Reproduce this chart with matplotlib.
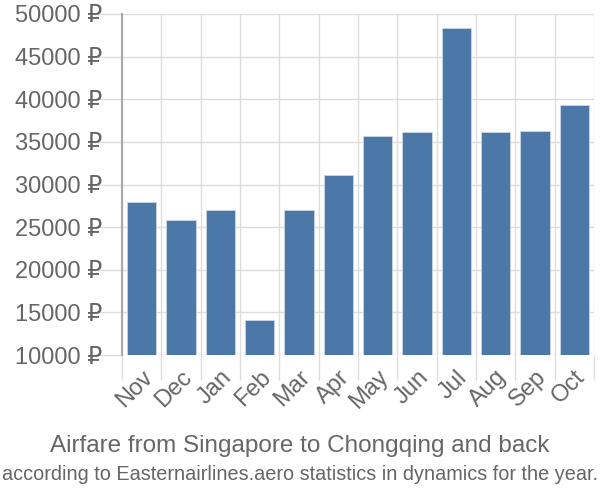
import numpy as np
import matplotlib.pyplot as plt

months = ['Nov', 'Dec', 'Jan', 'Feb', 'Mar', 'Apr', 'May', 'Jun', 'Jul', 'Aug', 'Sep', 'Oct']
prices = [28000, 25850, 27000, 14100, 27000, 31100, 35700, 36150, 48350, 36150, 36300, 39300]
yticks = [10000, 15000, 20000, 25000, 30000, 35000, 40000, 45000, 50000]

fam = ['Liberation Sans', 'DejaVu Sans']
plt.rcParams['font.family'] = fam

fig = plt.figure(figsize=(6, 5), dpi=100)
ax = fig.add_axes([122/600, 145/500, 472/600, 341/500])

x = np.arange(len(months))
base = 10000
ax.bar(x, np.array(prices) - base, bottom=base, width=0.74, color='#4c78a8',
       edgecolor='#c8d6e8', linewidth=0.6, zorder=3)

ax.set_xlim(-0.5, len(months) - 0.5)
ax.set_ylim(10000, 50000)

ax.set_yticks(yticks)
ax.set_yticklabels([f'{v} ₽' for v in yticks], fontsize=17, color='#666666')
ax.tick_params(axis='y', length=20, width=1, color='#dddddd', pad=-6)

ax.set_xticks(x)
ax.set_xticklabels(months, rotation=45, ha='right', rotation_mode='anchor',
                   fontsize=17, color='#666666')
ax.tick_params(axis='x', which='major', length=0, pad=8)
ax.set_xticks(np.arange(-0.5, len(months)), minor=True)
ax.tick_params(axis='x', which='minor', length=18, width=1, color='#dddddd')

ax.grid(True, axis='y', color='#dddddd', linewidth=1, zorder=0)
ax.grid(True, axis='x', which='minor', color='#dddddd', linewidth=1, zorder=0)

for s in ['top', 'right', 'bottom']:
    ax.spines[s].set_visible(False)
ax.spines['left'].set_color('#aaaaaa')
ax.spines['left'].set_linewidth(1.5)
ax.spines['left'].set_zorder(4)

fig.text(0.5, 1 - 446/500, 'Airfare from Singapore to Chongqing and back',
         ha='center', va='center', fontsize=17.5, color='#666666')
fig.text(0.5, 1 - 475/500, 'according to Easternairlines.aero statistics in dynamics for the year.',
         ha='center', va='center', fontsize=14.3, color='#666666')

fig.savefig('out.png', dpi=100)
